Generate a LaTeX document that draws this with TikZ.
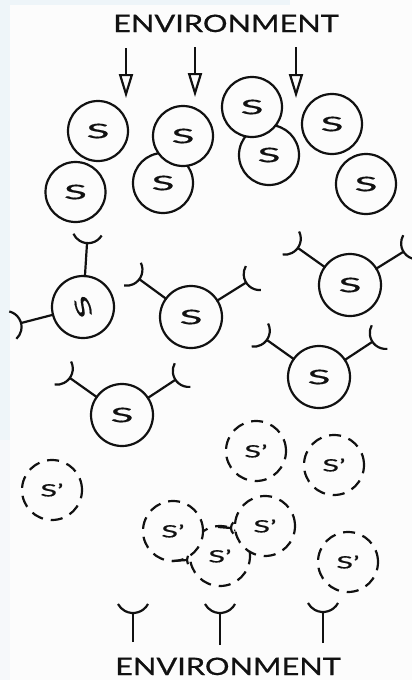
\documentclass[tikz,border=0pt]{standalone}
\usepackage{fontspec}
\setmainfont{Lato}[FakeBold=0.6]
\usetikzlibrary{arrows.meta,calc}
\definecolor{bgw}{HTML}{FCFCFC}
\definecolor{bgb}{HTML}{EEF5F9}
\definecolor{bgc}{HTML}{F6F8FA}
\definecolor{ink}{HTML}{111111}
\tikzset{
  cell/.style={circle, draw=ink, line width=2.2pt, fill=bgw, minimum size=60pt, inner sep=0pt, text=ink},
  rcell/.style={cell, minimum size=62pt},
  dcell/.style={cell, dash pattern=on 12pt off 8pt},
  recl/.style={draw=ink, line width=2.2pt},
  envarrow/.style={draw=ink, line width=2.2pt, -{Triangle[open, length=24pt, width=14pt]}},
  envtext/.style={font=\fontsize{24}{24}\selectfont, text=ink, inner sep=0pt, anchor=base},
}
\newcommand\sS{\scalebox{2.1}[1]{\fontsize{20}{20}\selectfont S}}
\newcommand\sSp{\scalebox{1.8}[1]{\fontsize{17}{17}\selectfont S'}}
% cup: coordinate, outward angle, radius, half angle
\newcommand\recup[4]{%
  \draw[recl] ($(#1)+(#2:#3)$) ++(#2+180-#4:#3) arc[start angle=#2+180-#4, end angle=#2+180+#4, radius=#3];}
% receptor: node, angle, tip radius, id
\newcommand\recep[4]{%
  \coordinate (#4s) at ($(#1.center)+(#2:30)$);
  \coordinate (#4t) at ($(#1.center)+(#2:#3)$);
  \draw[recl] (#4s) -- (#4t);
  \recup{#4t}{#2}{16}{62}}
\begin{document}
\begin{tikzpicture}[x=1pt,y=-1pt]
\useasboundingbox (0,0) rectangle (412,680);
\fill[bgw] (0,0) rectangle (412,680);
\fill[bgb] (0,0) rectangle (290,5);
\fill[bgb] (0,0) rectangle (10,440);
\fill[bgc] (0,440) rectangle (10,680);

% top environment
\node[envtext] (envtop) at (226,32) {\scalebox{1.28}[1]{ENVIRONMENT}};
\coordinate (a1s) at (126,48); \coordinate (a1e) at (126,98);
\coordinate (a2s) at (195,47); \coordinate (a2e) at (195,97);
\coordinate (a3s) at (296,47); \coordinate (a3e) at (296,98);
\draw[envarrow] (a1s) -- (a1e);
\draw[envarrow] (a2s) -- (a2e);
\draw[envarrow] (a3s) -- (a3e);

% top cells
\node[cell] (c4) at (163,183) {\sS};
\node[cell] (c6) at (269,155) {\sS};
\node[cell] (c1) at (98,131) {\sS};
\node[cell] (c2) at (75.5,192) {\sS};
\node[cell] (c3) at (183,136) {\sS};
\node[cell] (c5) at (252,107) {\sS};
\node[cell] (c7) at (332,124) {\sS};
\node[cell] (c8) at (366,184) {\sS};

% receptor cells
\node[rcell] (r1) at (83,307) {\rotatebox{110}{\sS}};
\node[rcell] (r2) at (191,317) {\sS};
\node[rcell] (r3) at (350,285) {\sS};
\node[rcell] (r4) at (319,377) {\sS};
\node[rcell] (r5) at (122,415) {\sS};
\recep{r1}{-86.4}{64}{r1a}
\recep{r1}{165.5}{64}{r1b}
\recep{r2}{-143.8}{64}{r2a}
\recep{r2}{-32}{65}{r2b}
\recep{r3}{-144.6}{64}{r3a}
\recep{r3}{-31.9}{63}{r3b}
\recep{r4}{-144.6}{64}{r4a}
\recep{r4}{-33.4}{64}{r4b}
\recep{r5}{-144.6}{64}{r5a}
\recep{r5}{-33.4}{64}{r5b}

% dashed cells
\node[dcell] (d6) at (220,556) {\sSp};
\node[dcell] (d1) at (52,490) {\sSp};
\node[dcell] (d2) at (256,451) {\sSp};
\node[dcell] (d3) at (334,465) {\sSp};
\node[dcell] (d4) at (173,531) {\sSp};
\node[dcell] (d5) at (265,526) {\sSp};
\node[dcell] (d7) at (348,562) {\sSp};

% receptor fragments
\coordinate (f1s) at (218,527); \coordinate (f1t) at (231,528);
\draw[recl] (f1s) -- (f1t); \recup{f1t}{0}{8}{45}
\coordinate (f2s) at (172,561); \coordinate (f2t) at (187,560);
\draw[recl] (f2s) -- (f2t); \recup{f2t}{0}{10}{25}

% bottom receptors
\coordinate (b1s) at (133,642); \coordinate (b1t) at (133,613);
\coordinate (b2s) at (220,645); \coordinate (b2t) at (220,613);
\coordinate (b3s) at (323,643); \coordinate (b3t) at (323,612);
\draw[recl] (b1s) -- (b1t); \recup{b1t}{-90}{17}{62}
\draw[recl] (b2s) -- (b2t); \recup{b2t}{-90}{17}{62}
\draw[recl] (b3s) -- (b3t); \recup{b3t}{-90}{17}{62}

\node[envtext] (envbot) at (228,675) {\scalebox{1.28}[1]{ENVIRONMENT}};
\end{tikzpicture}
\end{document}
